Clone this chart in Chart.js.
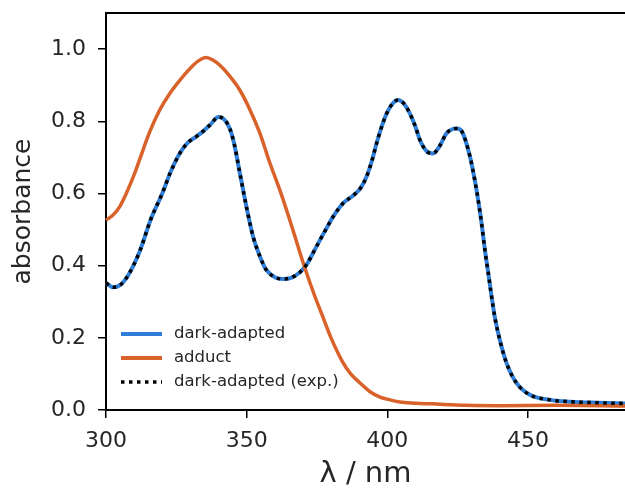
<!DOCTYPE html>
<html>
<head>
<meta charset="utf-8">
<script src="https://cdn.jsdelivr.net/npm/chart.js@4.4.1/dist/chart.umd.min.js"></script>
<style>
  html, body { margin: 0; padding: 0; background: #fff; }
  #wrap { width: 625px; height: 492px; }
</style>
</head>
<body>
<div id="wrap"><canvas id="chart"></canvas></div>
<script>
"use strict";

// wavelengths (nm) and absorbance
const darkLambda = [300, 302.5, 305, 308, 312, 316, 320, 323, 326.3, 329, 332, 334.5, 337, 340, 342, 344, 345.5, 347.6, 350, 352.3, 355, 357, 360, 363, 366, 369, 371.5, 373.6, 376, 378.5, 380.7, 384.3, 388, 390.5, 392.6, 394.5, 396.2, 398, 399.8, 402, 403.8, 406, 408, 410, 411.6, 414, 416.3, 418.5, 421, 423, 424.7, 426.5, 429.4, 431.1, 432.3, 433.5, 434.7, 435.9, 437.1, 438.2, 440, 442.4, 445.9, 450.7, 457.8, 465, 475, 485];
const darkAbs = [0.352, 0.340, 0.346, 0.375, 0.440, 0.53, 0.60, 0.66, 0.712, 0.74, 0.757, 0.772, 0.79, 0.812, 0.805, 0.78, 0.74, 0.656, 0.56, 0.48, 0.42, 0.388, 0.368, 0.363, 0.367, 0.382, 0.405, 0.435, 0.47, 0.505, 0.535, 0.573, 0.595, 0.615, 0.646, 0.69, 0.739, 0.785, 0.822, 0.850, 0.859, 0.848, 0.822, 0.785, 0.748, 0.717, 0.711, 0.73, 0.766, 0.778, 0.780, 0.772, 0.702, 0.637, 0.582, 0.518, 0.443, 0.379, 0.313, 0.258, 0.194, 0.13, 0.075, 0.042, 0.028, 0.023, 0.020, 0.018];
const expAbs = [0.352, 0.340, 0.346, 0.375, 0.440, 0.53, 0.60, 0.66, 0.712, 0.74, 0.757, 0.772, 0.79, 0.812, 0.805, 0.78, 0.74, 0.656, 0.56, 0.48, 0.42, 0.388, 0.368, 0.363, 0.367, 0.382, 0.405, 0.435, 0.47, 0.505, 0.535, 0.573, 0.595, 0.615, 0.646, 0.69, 0.739, 0.785, 0.822, 0.850, 0.859, 0.848, 0.822, 0.785, 0.748, 0.717, 0.711, 0.73, 0.766, 0.778, 0.780, 0.772, 0.702, 0.637, 0.582, 0.518, 0.443, 0.379, 0.313, 0.258, 0.194, 0.13, 0.075, 0.042, 0.028, 0.023, 0.020, 0.018];

const adductLambda = [300, 302.5, 305, 307.5, 310, 312, 315.5, 319, 322.5, 326.3, 331, 333, 335.5, 338, 340.5, 344, 347.6, 351, 354.7, 358, 362, 366, 370, 374, 377, 380, 384, 387, 390, 394, 397.4, 401, 404.5, 410, 416, 428, 440, 460, 485];
const adductAbs = [0.526, 0.54, 0.565, 0.605, 0.652, 0.695, 0.77, 0.83, 0.875, 0.914, 0.955, 0.968, 0.977, 0.970, 0.955, 0.925, 0.886, 0.835, 0.767, 0.69, 0.605, 0.51, 0.41, 0.32, 0.26, 0.20, 0.135, 0.10, 0.077, 0.05, 0.036, 0.028, 0.022, 0.019, 0.017, 0.013, 0.012, 0.013, 0.011];

const xTicks = [300, 350, 400, 450];
const yTicks = [0, 0.2, 0.4, 0.6, 0.8, 1.0];

const BLUE = "#2f7fd9";
const ORANGE = "#d9622b";
const INK = "#262626";
const FONT = "'DejaVu Sans', sans-serif";

const toPoints = (xs, ys) => xs.map((x, i) => ({ x: x, y: ys[i] }));

const legendItems = [
    { label: "dark-adapted", color: BLUE, width: 4, dash: [] },
    { label: "adduct", color: ORANGE, width: 4, dash: [] },
    { label: "dark-adapted (exp.)", color: "#000", width: 3.5, dash: [3.5, 4.5] }
];

// top spine + legend inside the plot box
const framePlugin = {
    id: "frame",
    afterDatasetsDraw(chart) {
        const { ctx, chartArea } = chart;
        ctx.save();
        ctx.strokeStyle = "#000";
        ctx.lineWidth = 2;
        ctx.beginPath();
        ctx.moveTo(chartArea.left, chartArea.top);
        ctx.lineTo(chartArea.right, chartArea.top);
        ctx.stroke();

        ctx.font = "16.5px " + FONT;
        ctx.textBaseline = "middle";
        legendItems.forEach((item, i) => {
            const y = 334 + i * 24;
            ctx.strokeStyle = item.color;
            ctx.lineWidth = item.width;
            ctx.setLineDash(item.dash);
            ctx.beginPath();
            ctx.moveTo(121, y);
            ctx.lineTo(162, y);
            ctx.stroke();
            ctx.setLineDash([]);
            ctx.fillStyle = INK;
            ctx.fillText(item.label, 174, y);
        });
        ctx.restore();
    }
};

new Chart(document.getElementById("chart"), {
    type: "line",
    data: {
        datasets: [
            { label: "dark-adapted", data: toPoints(darkLambda, darkAbs), borderColor: BLUE, borderWidth: 4, order: 3 },
            { label: "adduct", data: toPoints(adductLambda, adductAbs), borderColor: ORANGE, borderWidth: 3.5, order: 2 },
            { label: "dark-adapted (exp.)", data: toPoints(darkLambda, expAbs), borderColor: "#000", borderWidth: 3.5, borderDash: [3.5, 4.5], order: 1 }
        ]
    },
    options: {
        responsive: true,
        maintainAspectRatio: false,
        animation: false,
        clip: false,
        layout: { padding: { top: 13, right: 0, left: 0, bottom: 0 } },
        elements: {
            point: { radius: 0 },
            line: { cubicInterpolationMode: "monotone", fill: false }
        },
        plugins: { legend: { display: false }, tooltip: { enabled: false } },
        scales: {
            x: {
                type: "linear",
                min: 300,
                max: 484.5,
                afterFit: s => { s.height = 82; s.paddingLeft = 0; s.paddingRight = 0; },
                afterBuildTicks: s => { s.ticks = xTicks.map(v => ({ value: v })); },
                border: { display: true, color: "#000", width: 2 },
                grid: { drawOnChartArea: false, drawTicks: true, tickLength: 8, color: "#000", lineWidth: 1.5 },
                ticks: { color: INK, font: { family: FONT, size: 22 }, padding: 10, maxRotation: 0 },
                title: { display: true, text: "λ / nm", color: INK, font: { family: FONT, size: 29 }, padding: { top: 0, bottom: 0 } }
            },
            y: {
                min: 0,
                max: 1.1,
                afterFit: s => { s.width = 106; s.paddingTop = 0; s.paddingBottom = 0; },
                afterBuildTicks: s => { s.ticks = yTicks.map(v => ({ value: v })); },
                border: { display: true, color: "#000", width: 2 },
                grid: { drawOnChartArea: false, drawTicks: true, tickLength: 8, color: "#000", lineWidth: 1.5 },
                ticks: { color: INK, font: { family: FONT, size: 22 }, padding: 12, callback: v => v.toFixed(1) },
                title: { display: true, text: "absorbance", color: INK, font: { family: FONT, size: 25 }, padding: { top: 8, bottom: 0 } }
            }
        }
    },
    plugins: [framePlugin]
});
</script>
</body>
</html>
